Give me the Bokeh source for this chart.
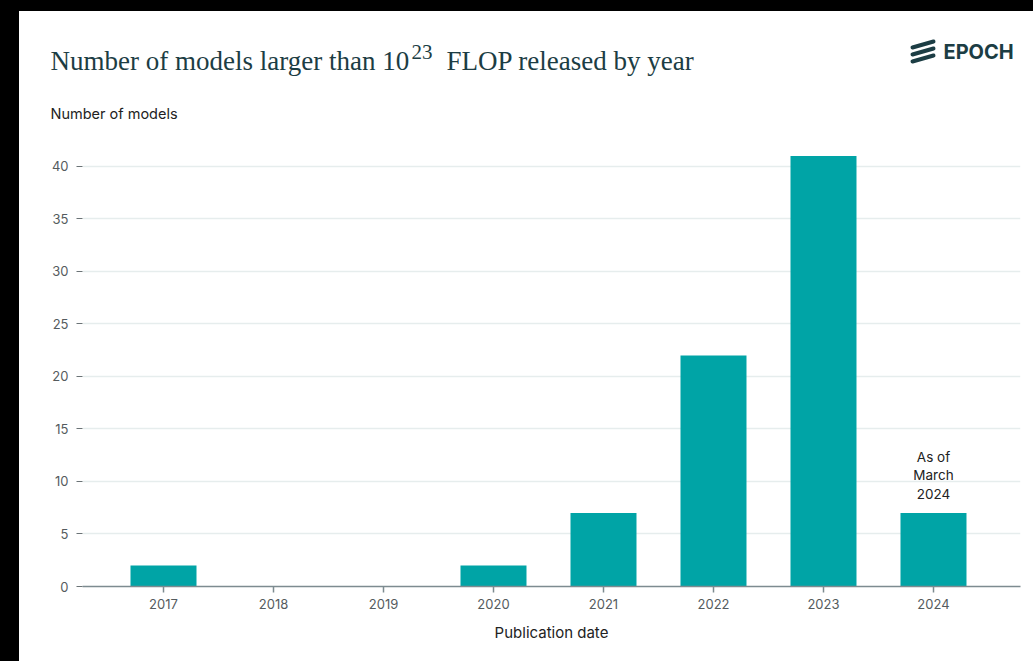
from bokeh.plotting import figure
from bokeh.models import (ColumnDataSource, Range1d, FixedTicker, Label, Arrow,
                          Spacer, BasicTickFormatter)
from bokeh.layouts import column, row
from bokeh.embed import file_html
from bokeh.resources import INLINE

# ---- data ----
years = [2017, 2018, 2019, 2020, 2021, 2022, 2023, 2024]
counts = [2, 0, 0, 2, 7, 22, 41, 7]
y_ticks = [0, 5, 10, 15, 20, 25, 30, 35, 40]
title_main = "Number of models larger than 10"
title_sup = "23"
title_rest = "FLOP released by year"
y_label = "Number of models"
x_label = "Publication date"
note_2024 = "As of\nMarch\n2024"
brand = "EPOCH"

TEAL = "#00a4a6"
DARK = "#1c3d44"
TXT = "#222222"
GRAY = "#555b5e"

W = 1014
HEAD_H = 119
MAIN_H = 531

# ---------------- header (title, brand, y label) ----------------
h = figure(width=W, height=HEAD_H, output_backend="svg", toolbar_location=None,
           x_range=Range1d(0, W), y_range=Range1d(HEAD_H, 0),
           min_border=0, min_border_left=0, min_border_right=0,
           min_border_top=0, min_border_bottom=0,
           background_fill_color="white", border_fill_color="white")
h.frame_align = False
h.xaxis.visible = False
h.yaxis.visible = False
h.grid.visible = False
h.outline_line_color = None

h.add_layout(Label(x=31, y=49, text=title_main, text_font="Liberation Serif",
                   text_font_size="27px", text_color=DARK, text_baseline="alphabetic",
                   text_align="left"))
h.add_layout(Label(x=392, y=40, text=title_sup, text_font="Liberation Serif",
                   text_font_size="21px", text_color=DARK, text_baseline="alphabetic",
                   text_align="left"))
h.add_layout(Label(x=427, y=49, text=title_rest, text_font="Liberation Serif",
                   text_font_size="27px", text_color=DARK, text_baseline="alphabetic",
                   text_align="left"))
h.add_layout(Label(x=31, y=102, text=y_label, text_font="Inter",
                   text_font_size="14.5px", text_color=TXT, text_baseline="alphabetic",
                   text_align="left"))
h.add_layout(Label(x=924, y=40, text=brand, text_font="Inter",
                   text_font_size="20px", text_font_style="bold", text_color=DARK,
                   text_baseline="alphabetic", text_align="left"))
for i in range(3):
    h.add_layout(Arrow(end=None, x_start=893, y_start=36 + 7 * i,
                       x_end=914, y_end=30 + 7 * i, line_width=4,
                       line_color=DARK, line_cap="round"))

# ---------------- main chart ----------------
X0, X1 = 2016.2636, 2024.791
Y1 = 42.476

src = ColumnDataSource(dict(year=years, count=counts))

p = figure(width=W, height=MAIN_H, output_backend="svg", toolbar_location=None,
           x_range=Range1d(X0, X1), y_range=Range1d(0, Y1),
           min_border_left=63, min_border_right=13, min_border_top=10,
           min_border_bottom=75, background_fill_color="white",
           border_fill_color="white")
p.frame_align = False
p.outline_line_color = None

p.vbar(x="year", top="count", width=0.6, source=src, fill_color=TEAL,
       line_color=None)

p.xgrid.grid_line_color = None
p.ygrid.grid_line_color = "#e6eded"
p.ygrid.grid_line_width = 1.5
p.ygrid.ticker = FixedTicker(ticks=y_ticks)

p.yaxis.ticker = FixedTicker(ticks=y_ticks)
p.yaxis.axis_line_color = None
p.yaxis.major_tick_in = 0
p.yaxis.major_tick_out = 6
p.yaxis.major_tick_line_color = "#6b7376"
p.yaxis.minor_tick_line_color = None
p.yaxis.major_label_standoff = 8
p.yaxis.major_label_text_font = "Inter"
p.yaxis.major_label_text_font_size = "13px"
p.yaxis.major_label_text_color = GRAY

p.xaxis.ticker = FixedTicker(ticks=years)
p.xaxis.formatter = BasicTickFormatter(use_scientific=False)
p.xaxis.axis_line_color = "#7d8b90"
p.xaxis.axis_line_width = 1.5
p.xaxis.major_tick_in = 0
p.xaxis.major_tick_out = 6
p.xaxis.major_tick_line_color = "#7d8b90"
p.xaxis.major_tick_line_width = 1.5
p.xaxis.minor_tick_line_color = None
p.xaxis.major_label_standoff = 6
p.xaxis.major_label_text_font = "Inter"
p.xaxis.major_label_text_font_size = "13px"
p.xaxis.major_label_text_color = GRAY
p.xaxis.axis_label = x_label
p.xaxis.axis_label_text_font = "Inter"
p.xaxis.axis_label_text_font_size = "15px"
p.xaxis.axis_label_text_font_style = "normal"
p.xaxis.axis_label_text_color = TXT
p.xaxis.axis_label_standoff = 11

p.add_layout(Label(x=years[-1], y=counts[-1], text=note_2024, text_font="Inter",
                   text_font_size="13.5px", text_color=TXT, text_align="center",
                   text_baseline="bottom", y_offset=11, text_line_height=1.17))

BLACK = {"background-color": "#000000"}
layout = column(Spacer(height=11, width=W + 19, styles=BLACK),
                row(Spacer(width=19, height=HEAD_H + MAIN_H, styles=BLACK),
                    column(h, p)))

open("out.html", "w").write(file_html(layout, INLINE))
